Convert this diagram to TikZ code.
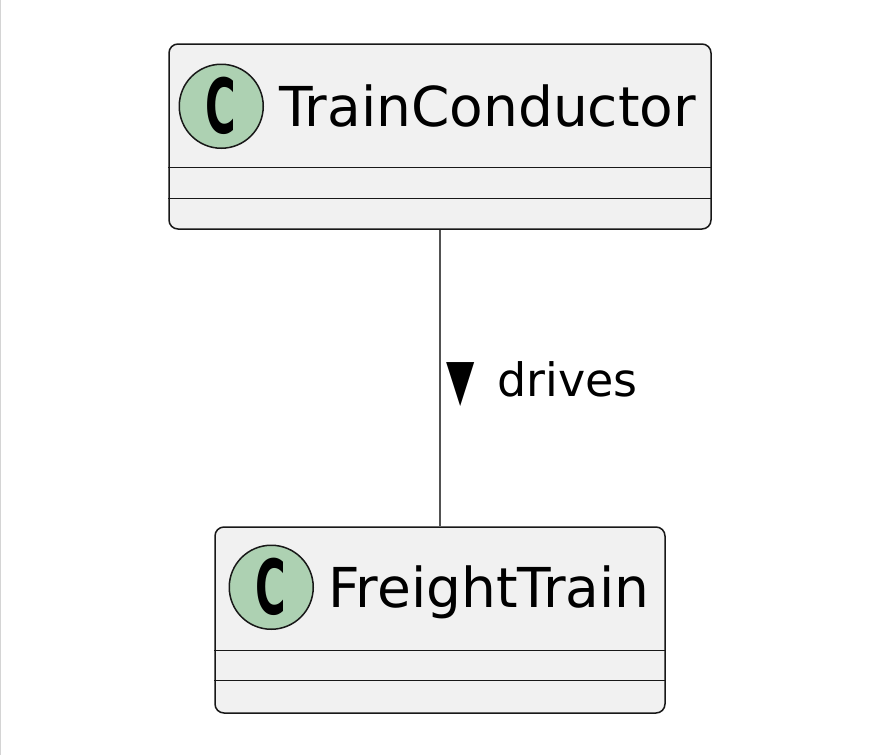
\documentclass[tikz,border=0pt]{standalone}
\usepackage{fontspec}
\setmainfont{DejaVu Sans}
\usepackage{graphicx}
\usetikzlibrary{positioning}
\definecolor{umlline}{HTML}{181818}
\definecolor{umlfill}{HTML}{F1F1F1}
\definecolor{spotgreen}{HTML}{ADD1B2}
\definecolor{edgegray}{HTML}{D4D4D4}
\newcommand{\spotC}{\scalebox{0.55}[1]{\fontsize{76}{76}\selectfont\bfseries C}}

\begin{document}
\begin{tikzpicture}[x=1pt, y=-1pt,
    classbox/.style={draw=umlline, fill=umlfill, rounded corners=9pt, line width=1.5pt, inner sep=0pt},
    spot/.style={circle, draw=umlline, fill=spotgreen, line width=1.5pt, minimum size=84pt, inner sep=0pt},
    classname/.style={inner sep=0pt, text height=41pt, text depth=0pt, font=\fontsize{55}{60}\selectfont},
    sepline/.style={draw=umlline, line width=1.4pt},
    assoc/.style={draw=umlline!75, line width=1.8pt},
    assoclabel/.style={inner sep=0pt, font=\fontsize{46}{50}\selectfont}]
    \useasboundingbox (0,0) rectangle (870,755);
    \fill[white] (0,0) rectangle (870,755);
    \draw[edgegray, line width=1pt] (0.5,0) -- (0.5,755);

    % TrainConductor
    \node[classbox, minimum width=542pt, minimum height=185pt] (tc) at (440,136.5) {};
    \draw[sepline] ([yshift=-124pt]tc.north west) -- ([yshift=-124pt]tc.north east);
    \draw[sepline] ([yshift=-155pt]tc.north west) -- ([yshift=-155pt]tc.north east);
    \node[spot] (tcspot) at ([xshift=53pt, yshift=-63pt]tc.north west) {\spotC};
    \node[classname, right=15pt of tcspot] (tcname) {TrainConductor};

    % FreightTrain
    \node[classbox, minimum width=450pt, minimum height=186pt] (ft) at (440,620) {};
    \draw[sepline] ([yshift=-124pt]ft.north west) -- ([yshift=-124pt]ft.north east);
    \draw[sepline] ([yshift=-154pt]ft.north west) -- ([yshift=-154pt]ft.north east);
    \node[spot] (ftspot) at ([xshift=57pt, yshift=-61pt]ft.north west) {\spotC};
    \node[classname, right=14pt of ftspot] (ftname) {FreightTrain};

    % association
    \draw[assoc] (tc) -- (ft);
    \path (tc.south) -- (ft.north)
        node[pos=0.52, right=6pt, assoclabel] (drives) {\raisebox{-3pt}{\scalebox{0.8}[1.25]{▼}}\hspace{0.5em}drives};
\end{tikzpicture}
\end{document}
